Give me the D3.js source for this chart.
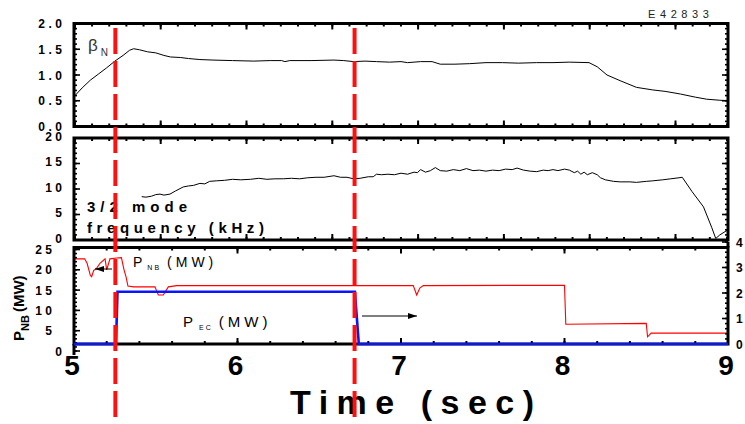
<!DOCTYPE html>
<html><head><meta charset="utf-8">
<script src="https://cdn.jsdelivr.net/npm/d3@7"></script>
<style>
body{margin:0;background:#fff}
svg{display:block}
text{font-family:"Liberation Sans",Arial,Helvetica,sans-serif}
</style>
</head><body>
<svg id="c" width="745" height="424"></svg>
<script>
// ---------------- data ----------------
const shotLabel = "E42833";
const timeTicks = [5, 6, 7, 8, 9];
const betaTicks = [0, 0.5, 1, 1.5, 2];
const betaTickLabels = ["0.0", "0.5", "1.0", "1.5", "2.0"];
const freqTicks = [0, 5, 10, 15, 20];
const nbTicks = [0, 5, 10, 15, 20, 25];
const ecTicks = [0, 1, 2, 3, 4];
const markerTimes = [5.253, 6.716];

const betaT = [5.00,5.05,5.10,5.15,5.20,5.25,5.30,5.34,5.365,5.40,5.45,5.50,5.55,5.59,5.65,5.70,5.77,5.85,5.97,6.10,6.20,6.27,6.29,6.32,6.45,6.59,6.65,6.71,6.78,6.85,6.93,7.00,7.04,7.12,7.19,7.24,7.33,7.42,7.52,7.62,7.72,7.83,7.93,8.03,8.15,8.20,8.26,8.34,8.44,8.54,8.62,8.71,8.80,8.87,8.95,9.00];
const betaV = [0.58,0.75,0.90,1.02,1.14,1.27,1.38,1.48,1.51,1.49,1.45,1.43,1.38,1.35,1.34,1.32,1.30,1.29,1.28,1.27,1.28,1.28,1.26,1.28,1.28,1.29,1.28,1.26,1.27,1.26,1.25,1.26,1.24,1.26,1.26,1.21,1.21,1.22,1.24,1.24,1.23,1.24,1.24,1.25,1.24,1.16,1.00,0.89,0.76,0.71,0.68,0.63,0.57,0.53,0.51,0.50];

const freqT = [5.414,5.44,5.475,5.50,5.526,5.55,5.587,5.62,5.668,5.70,5.73,5.77,5.80,5.83,5.87,5.92,5.97,6.02,6.08,6.13,6.18,6.23,6.28,6.33,6.38,6.43,6.48,6.53,6.59,6.63,6.67,6.71,6.75,6.80,6.83,6.85,6.88,6.92,6.96,7.00,7.04,7.08,7.10,7.12,7.15,7.18,7.21,7.24,7.28,7.32,7.36,7.40,7.44,7.48,7.52,7.56,7.60,7.64,7.68,7.71,7.75,7.79,7.83,7.87,7.90,7.93,7.96,8.00,8.03,8.06,8.08,8.10,8.12,8.14,8.17,8.20,8.22,8.25,8.30,8.34,8.40,8.44,8.50,8.54,8.60,8.65,8.70,8.72,8.78,8.85,8.90,8.925,8.95,9.00];
const freqV = [8.5,8.4,8.6,8.9,9.0,8.8,9.0,9.6,10.4,10.6,10.7,11.1,11.0,11.5,11.6,11.7,11.9,11.8,11.9,12.1,11.9,12.0,12.0,12.1,12.0,12.2,12.3,12.3,12.6,12.3,12.3,12.0,12.1,12.4,12.4,12.9,12.8,12.9,12.8,13.1,12.9,13.3,13.2,13.8,13.3,13.6,14.2,13.6,13.5,13.8,13.6,14.0,13.6,13.7,13.5,13.7,13.6,13.9,13.8,14.1,13.7,13.5,13.4,13.7,13.6,13.8,13.6,13.9,13.7,13.2,13.5,12.9,13.3,12.8,13.2,12.8,12.2,11.8,11.5,11.4,11.4,11.3,11.5,11.6,11.8,12.0,12.2,12.3,9.5,6.5,2.5,0.3,1.0,2.0];

const pnbT = [5.00,5.065,5.08,5.10,5.108,5.12,5.139,5.159,5.19,5.20,5.22,5.26,5.29,5.306,5.318,5.33,5.363,5.495,5.516,5.546,5.577,5.628,7.075,7.096,7.115,7.136,8.00,8.008,8.50,8.508,8.53,9.00];
const pnbV = [22.7,22.7,21.6,18.6,18.3,19.8,20.4,21.6,22.7,20.0,22.7,22.9,23.0,20.0,18.3,16.0,15.8,15.8,13.8,13.8,15.8,16.1,16.1,13.8,15.5,16.1,16.2,6.6,6.8,3.5,4.4,4.4];

const pecT = [5.00,5.257,5.266,6.718,6.742,9.00];
const pecV = [0,0,2.05,2.05,0,0];

// ---------------- scales ----------------
const X0 = 74, X1 = 728;
const x = d3.scaleLinear().domain([5, 9]).range([X0, X1]);
// the two upper panels carry their own (unlabelled) time-tick spacing
const xAux = d3.scaleLinear().domain([0, 7.62]).range([74.9, 74.9 + 7.62 * 85.8]);

const P1 = {top: 23.5, bot: 126.5};
const P2 = {top: 138, bot: 240};
const P3 = {top: 247.5, bot: 344};

const yBeta = d3.scaleLinear().domain([0, 2]).range([P1.bot, P1.top]);
const yFreq = d3.scaleLinear().domain([0, 20]).range([P2.bot, P2.top]);
const yNB = d3.scaleLinear().domain([0, 25]).range([351, 249.5]);
const yEC = d3.scaleLinear().domain([0, 4]).range([344, 242]);

const svg = d3.select("#c");
const zip = (a, b) => a.map((v, i) => [v, b[i]]);

// ---------------- tick helpers ----------------
function hTicks(vals, xs, y, dir, len) {
  svg.append("g").selectAll("line").data(vals).join("line")
    .attr("x1", d => xs(d)).attr("x2", d => xs(d))
    .attr("y1", y).attr("y2", y + dir * len)
    .attr("stroke", "#000").attr("stroke-width", 2);
}
function vTicks(vals, ys, xp, dir, len) {
  svg.append("g").selectAll("line").data(vals).join("line")
    .attr("y1", d => ys(d)).attr("y2", d => ys(d))
    .attr("x1", xp).attr("x2", xp + dir * len)
    .attr("stroke", "#000").attr("stroke-width", 1.6);
}
const rng = (a, b, s) => d3.range(Math.round((b - a) / s) + 1).map(i => +(a + i * s).toFixed(4));

// ---------------- curves ----------------
const line = (xs, ys) => d3.line().x(d => xs(d[0])).y(d => ys(d[1]));

svg.append("path").datum(zip(betaT, betaV)).attr("d", line(x, yBeta))
  .attr("fill", "none").attr("stroke", "#000").attr("stroke-width", 1);
svg.append("path").datum(zip(freqT, freqV)).attr("d", line(x, yFreq))
  .attr("fill", "none").attr("stroke", "#000").attr("stroke-width", 1);
svg.append("path").datum(zip(pnbT, pnbV)).attr("d", line(x, yNB))
  .attr("fill", "none").attr("stroke", "#ff0000").attr("stroke-width", 1.1);

// ---------------- frames & ticks ----------------
[P1, P2, P3].forEach(p => {
  svg.append("rect").attr("x", X0).attr("y", p.top).attr("width", X1 - X0).attr("height", p.bot - p.top)
    .attr("fill", "none").attr("stroke", "#000").attr("stroke-width", 3);
});
// extension of left axis of bottom panel
svg.append("line").attr("x1", X0).attr("x2", X0).attr("y1", P3.bot).attr("y2", 355)
  .attr("stroke", "#000").attr("stroke-width", 3);
// right axis extension up to EC=4
svg.append("line").attr("x1", X1).attr("x2", X1).attr("y1", yEC(4)).attr("y2", P3.top)
  .attr("stroke", "#000").attr("stroke-width", 3);

const auxMajor = rng(0, 7, 1), auxMinor = rng(0, 7.6, 0.2);
[P1, P2].forEach(p => {
  hTicks(auxMinor, xAux, p.top, 1, 3); hTicks(auxMajor, xAux, p.top, 1, 6);
  hTicks(auxMinor, xAux, p.bot, -1, 3); hTicks(auxMajor, xAux, p.bot, -1, 6);
});
const tMinor = rng(5, 9, 0.2);
hTicks(tMinor, x, P3.top, 1, 3); hTicks(timeTicks, x, P3.top, 1, 6);
hTicks(tMinor, x, P3.bot, -1, 3); hTicks(timeTicks, x, P3.bot, -1, 6);

vTicks(rng(0, 2, 0.1), yBeta, X0, 1, 3); vTicks(betaTicks, yBeta, X0, 1, 6);
vTicks(rng(0, 2, 0.1), yBeta, X1, -1, 3); vTicks(betaTicks, yBeta, X1, -1, 6);
vTicks(rng(0, 20, 1), yFreq, X0, 1, 3); vTicks(freqTicks, yFreq, X0, 1, 6);
vTicks(rng(0, 20, 1), yFreq, X1, -1, 3); vTicks(freqTicks, yFreq, X1, -1, 6);
vTicks(rng(0, 25, 1), yNB, X0, 1, 3); vTicks(nbTicks, yNB, X0, 1, 6);
vTicks(rng(0, 4, 0.2), yEC, X1, -1, 3); vTicks(ecTicks, yEC, X1, -1, 6);

// blue EC trace (drawn over the bottom frame)
svg.append("path").datum(zip(pecT, pecV)).attr("d", line(x, yEC))
  .attr("fill", "none").attr("stroke", "#0a14ff").attr("stroke-width", 2.6);

// ---------------- tick labels ----------------
const tl = {"font-weight": "bold", "font-size": "12px", "letter-spacing": "3.5px", "text-anchor": "end"};
function labels(vals, txt, ys, xr, dy, extra) {
  svg.append("g").selectAll("text").data(vals).join("text")
    .attr("x", (d, i) => xr + 3.5 + (extra ? extra(d) : 0)).attr("y", d => ys(d) + dy)
    .attr("font-weight", "bold").attr("font-size", "12px").attr("letter-spacing", "3.5px")
    .attr("text-anchor", "end").attr("fill", "#000")
    .text((d, i) => txt(d, i));
}
labels(betaTicks, (d, i) => betaTickLabels[i], yBeta, 62, 4.5);
labels(freqTicks, d => d, yFreq, 62, 2.5);
labels(nbTicks, d => d, yNB, 52, 4.5, d => d === 0 ? 10 : 0);
svg.append("g").selectAll("text").data(ecTicks).join("text")
  .attr("x", 736).attr("y", d => yEC(d) + 4.5)
  .attr("font-weight", "bold").attr("font-size", "12px").attr("fill", "#000")
  .text(d => d);
svg.append("g").selectAll("text").data(timeTicks).join("text")
  .attr("x", d => x(d) - 2).attr("y", 375)
  .attr("font-weight", "bold").attr("font-size", "28px").attr("text-anchor", "middle").attr("fill", "#000")
  .text(d => d);

// ---------------- titles & annotations ----------------
svg.append("text").attr("x", 290).attr("y", 414)
  .attr("font-weight", "bold").attr("font-size", "34px").attr("letter-spacing", "8.5px").attr("fill", "#000")
  .text("Time (sec)");

svg.append("text").attr("x", 648).attr("y", 18)
  .attr("font-size", "11px").attr("letter-spacing", "4.6px").attr("fill", "#222").text(shotLabel);

const bn = svg.append("text").attr("x", 88).attr("y", 51).attr("fill", "#333");
bn.append("tspan").attr("font-size", "17px").text("β");
bn.append("tspan").attr("font-size", "10px").attr("dx", 3).attr("dy", 5).text("N");

svg.append("text").attr("x", 87).attr("y", 212).attr("font-weight", "bold").attr("font-size", "15px")
  .attr("letter-spacing", "5px").attr("fill", "#000").text("3/2 mode");
svg.append("text").attr("x", 87).attr("y", 233).attr("font-weight", "bold").attr("font-size", "15px")
  .attr("letter-spacing", "4.6px").attr("fill", "#000").text("frequency (kHz)");

const pnbLab = svg.append("text").attr("x", 133).attr("y", 267).attr("fill", "#000");
pnbLab.append("tspan").attr("font-size", "14px").text("P");
pnbLab.append("tspan").attr("font-size", "7px").attr("dx", 5).attr("dy", 3).attr("letter-spacing", "2px").text("NB");
pnbLab.append("tspan").attr("font-size", "14px").attr("dx", 6).attr("dy", -3).attr("letter-spacing", "4px").text("(MW)");

const pecLab = svg.append("text").attr("x", 183).attr("y", 327).attr("fill", "#000");
pecLab.append("tspan").attr("font-size", "15px").text("P");
pecLab.append("tspan").attr("font-size", "7px").attr("dx", 6).attr("dy", 3).attr("letter-spacing", "2px").text("EC");
pecLab.append("tspan").attr("font-size", "15px").attr("dx", 6).attr("dy", -3).attr("letter-spacing", "4px").text("(MW)");

// arrows
function arrow(x1, x2, y) {
  svg.append("line").attr("x1", x1).attr("x2", x2).attr("y1", y).attr("y2", y)
    .attr("stroke", "#000").attr("stroke-width", 1);
  const d = x2 > x1 ? 1 : -1;
  svg.append("path").attr("d", `M${x2},${y} L${x2 - d * 9},${y - 3} L${x2 - d * 9},${y + 3} Z`).attr("fill", "#000");
}
arrow(112, 95, 269);
arrow(362, 417, 316);

// rotated y label for bottom panel
const yl = svg.append("text").attr("transform", "translate(24,341) rotate(-90)")
  .attr("font-weight", "bold").attr("fill", "#000");
yl.append("tspan").attr("font-size", "15px").text("P");
yl.append("tspan").attr("font-size", "11px").attr("dy", 5).text("NB");
yl.append("tspan").attr("font-size", "15px").attr("dy", -5).attr("dx", 3).text("(MW)");

// red dashed markers
svg.append("g").selectAll("line").data(markerTimes).join("line")
  .attr("x1", d => x(d)).attr("x2", d => x(d)).attr("y1", 28).attr("y2", 424)
  .attr("stroke", "#ff1010").attr("stroke-width", 4).attr("stroke-dasharray", "26,7");
</script>
</body></html>
